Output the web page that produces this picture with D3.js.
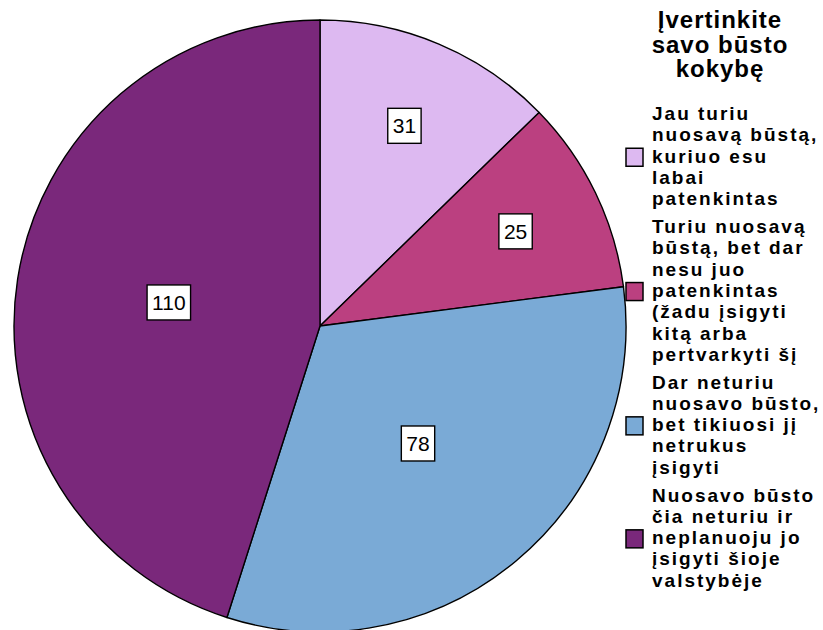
<!DOCTYPE html>
<html>
<head>
<meta charset="utf-8">
<script src="https://cdn.jsdelivr.net/npm/d3@7"></script>
<style>
  body { margin: 0; background: #fff; }
  svg { display: block; font-family: Arial, "Liberation Sans", sans-serif; }
</style>
</head>
<body>
<svg id="chart" width="823" height="630"></svg>
<script>
  // chart values
  const categories = ['own-satisfied', 'own-not-satisfied', 'hope-to-buy', 'no-plan'];
  const values = [31, 25, 78, 110];
  const colors = ['#ddb9f1', '#bb4080', '#7aaad6', '#7a287b'];
  const legendTitle = ['Įvertinkite', 'savo būsto', 'kokybę'];
  const legendLabels = [
    ['Jau turiu', 'nuosavą būstą,', 'kuriuo esu', 'labai', 'patenkintas'],
    ['Turiu nuosavą', 'būstą, bet dar', 'nesu juo', 'patenkintas', '(žadu įsigyti', 'kitą arba', 'pertvarkyti šį'],
    ['Dar neturiu', 'nuosavo būsto,', 'bet tikiuosi jį', 'netrukus', 'įsigyti'],
    ['Nuosavo būsto', 'čia neturiu ir', 'neplanuoju jo', 'įsigyti šioje', 'valstybėje']
  ];

  const svg = d3.select('#chart');
  const cx = 320, cy = 326, R = 306;

  const pie = d3.pie().sort(null).value(d => d);
  const arcs = pie(values);
  const arc = d3.arc().innerRadius(0).outerRadius(R);

  const g = svg.append('g').attr('transform', `translate(${cx},${cy})`);

  g.selectAll('path')
    .data(arcs)
    .enter()
    .append('path')
    .attr('d', arc)
    .attr('fill', (d, i) => colors[i])
    .attr('stroke', '#000')
    .attr('stroke-width', 1.4)
    .attr('stroke-linejoin', 'round');

  // value labels - small slices get pushed further out
  const labels = g.selectAll('g.label')
    .data(arcs)
    .enter()
    .append('g')
    .attr('class', 'label')
    .attr('transform', d => {
      const span = d.endAngle - d.startAngle;
      const r = span > Math.PI / 2 ? R * 0.5 : R * 0.71;
      const c = d3.arc().innerRadius(r).outerRadius(r).centroid(d);
      return `translate(${c[0]},${c[1]})`;
    });

  labels.each(function(d) {
    const lg = d3.select(this);
    const t = lg.append('text')
      .attr('text-anchor', 'middle')
      .attr('dy', '0.36em')
      .attr('font-size', 21)
      .attr('fill', '#000')
      .text(d.data);
    const w = t.node().getComputedTextLength() + 10;
    lg.insert('rect', 'text')
      .attr('x', -w / 2)
      .attr('y', -17.5)
      .attr('width', w)
      .attr('height', 35)
      .attr('fill', '#fff')
      .attr('stroke', '#000')
      .attr('stroke-width', 1.4);
  });

  // legend title
  svg.append('text')
    .attr('x', 720)
    .attr('y', 28)
    .attr('text-anchor', 'middle')
    .attr('font-size', 24)
    .attr('font-weight', 'bold')
    .attr('letter-spacing', 1)
    .selectAll('tspan')
    .data(legendTitle)
    .enter()
    .append('tspan')
    .attr('x', 720)
    .attr('dy', (d, i) => i === 0 ? 0 : 24.5)
    .text(d => d);

  // legend items
  const lineH = 21.3, itemGap = 6.5;
  let itemY = 106;
  legendLabels.forEach((lines, i) => {
    const item = svg.append('g').attr('transform', `translate(0,${itemY})`);
    const h = lines.length * lineH;
    item.append('rect')
      .attr('x', 626)
      .attr('y', h / 2 - 11)
      .attr('width', 17)
      .attr('height', 18)
      .attr('fill', colors[i])
      .attr('stroke', '#000')
      .attr('stroke-width', 1.5);
    item.append('text')
      .attr('font-size', 19)
      .attr('font-weight', 'bold')
      .attr('letter-spacing', 2)
      .selectAll('tspan')
      .data(lines)
      .enter()
      .append('tspan')
      .attr('x', 652)
      .attr('y', (d, j) => j * lineH + 14)
      .text(d => d);
    itemY += h + itemGap;
  });
</script>
</body>
</html>
